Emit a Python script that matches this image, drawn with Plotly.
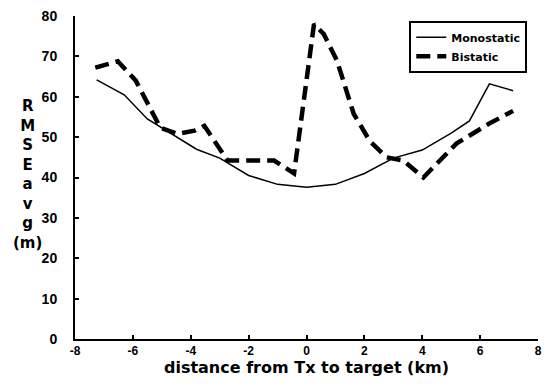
import plotly.graph_objects as go

mono_x = [-7.25, -6.3, -5.5, -4.6, -3.8, -3.0, -2.0, -1.0, 0.0, 1.0, 2.0, 3.0, 4.0, 5.0, 5.63, 6.32, 7.14]
mono_y = [64.2, 60.5, 54.5, 50.5, 47.0, 44.8, 40.5, 38.3, 37.6, 38.3, 41.0, 44.8, 46.8, 51.0, 54.0, 63.2, 61.5]

bi_x = [-7.3, -6.52, -5.9, -5.05, -4.46, -3.87, -3.53, -2.73, -1.12, -0.43, 0.26, 0.6, 1.05, 1.63, 2.19, 2.77, 3.35, 4.04, 5.18, 6.3, 7.14]
bi_y = [67.2, 68.8, 64.0, 52.3, 50.8, 51.6, 52.8, 44.2, 44.2, 41.0, 78.0, 75.5, 69.0, 55.8, 49.0, 45.0, 44.2, 40.0, 48.4, 53.3, 56.5]

x_ticks = [-8, -6, -4, -2, 0, 2, 4, 6, 8]
y_ticks = [0, 10, 20, 30, 40, 50, 60, 70, 80]

arial = "Arial, Liberation Sans, sans-serif"
wide = "DejaVu Sans, Verdana, sans-serif"

fig = go.Figure()
fig.add_trace(go.Scatter(x=mono_x, y=mono_y, mode="lines", name="Monostatic",
                         line=dict(color="black", width=1.5)))
fig.add_trace(go.Scatter(x=bi_x, y=bi_y, mode="lines", name="Bistatic",
                         line=dict(color="black", width=4.5, dash="14px,7px")))

axis_common = dict(showgrid=False, zeroline=False, showline=True, linecolor="black",
                   linewidth=2, ticks="inside", ticklen=4, tickwidth=2, tickcolor="black")

fig.update_xaxes(range=[-8, 8], tickvals=x_ticks, ticktext=[str(v) for v in x_ticks],
                 tickfont=dict(family=arial, size=12, color="black", weight="bold"),
                 title=dict(text="distance from Tx to target (km)", standoff=2,
                            font=dict(family=wide, size=16, color="black", weight="bold")),
                 **axis_common)
fig.update_yaxes(range=[0, 80], tickvals=y_ticks, ticktext=[str(v) for v in y_ticks],
                 tickfont=dict(family=arial, size=14, color="black", weight="bold"),
                 ticklabelstandoff=13, **axis_common)

fig.add_annotation(text="R<br>M<br>S<br>E<br>a<br>v<br>g<br>(m)", xref="paper", yref="paper",
                   x=-0.103, y=0.509, xanchor="center", yanchor="middle", showarrow=False,
                   align="center",
                   font=dict(family=wide, size=15, color="black", weight="bold"))

fig.update_layout(
    width=550, height=387,
    margin=dict(l=75, r=8, t=15, b=48),
    plot_bgcolor="white", paper_bgcolor="white",
    showlegend=True,
    legend=dict(x=0.722, y=0.985, xanchor="left", yanchor="top",
                bordercolor="black", borderwidth=2, bgcolor="white",
                font=dict(family=wide, size=11, color="black", weight="bold"),
                tracegroupgap=0, itemwidth=30),
)

fig.write_html("out.html")
